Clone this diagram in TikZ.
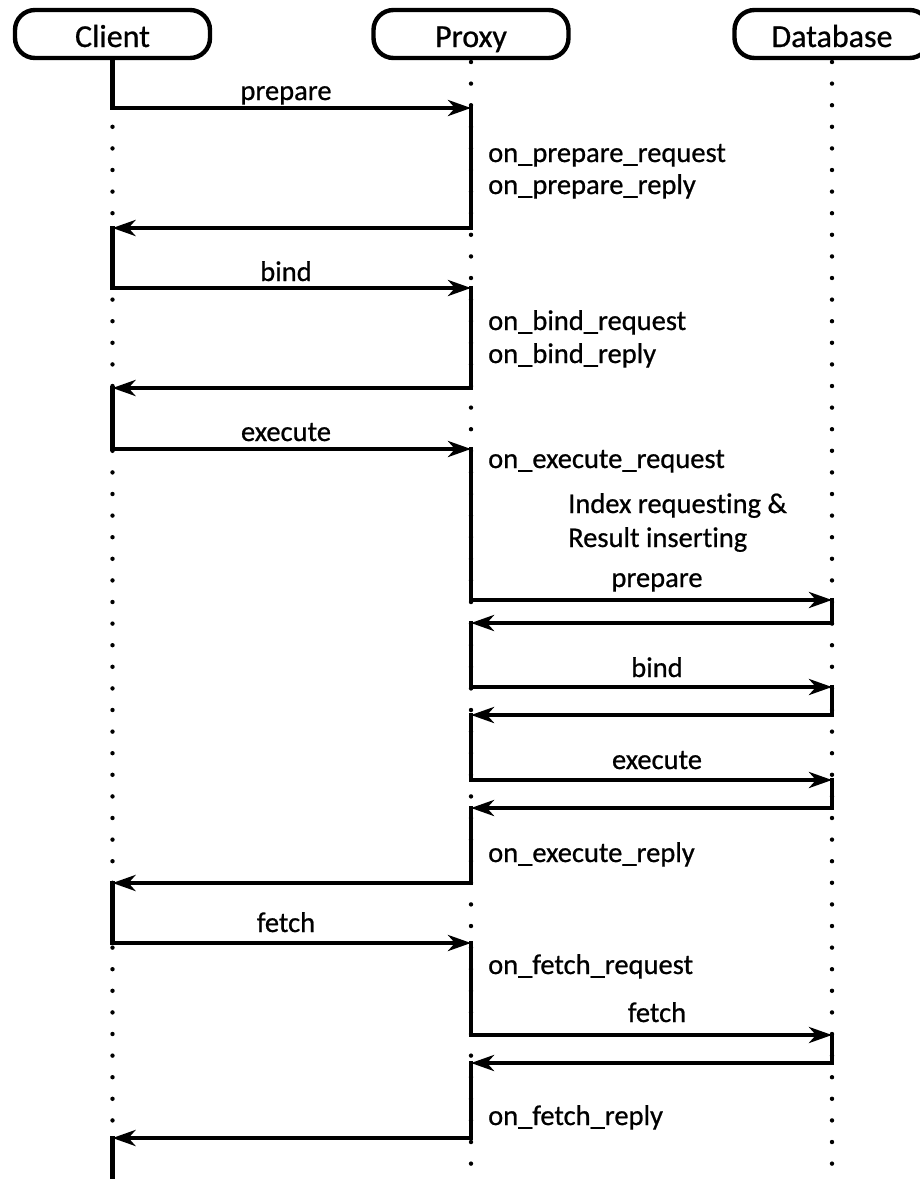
\documentclass[tikz,border=0pt]{standalone}
\usepackage{fontspec}
\setmainfont{Carlito}[Ligatures=NoCommon, FakeBold=0.7]
\usetikzlibrary{arrows.meta}
% one message: the sender's activation bar from y0 down to y1, then the arrow to the receiver at y1
\newcommand\seqmsg[4]{\draw[msg] (#1 |- 0,#2) -- (#1 |- 0,#3) -- (#4 |- 0,#3);}
% keeps "t" and "i" as separate letters
\newcommand\nolig{\kern0pt}
\begin{document}
\begin{tikzpicture}[x=1pt,y=-1pt,
  head/.style={draw, line width=4.4pt, rounded corners=20pt, minimum width=195pt,
    minimum height=48pt, inner sep=0pt, text height=26pt, text depth=0pt,
    font=\fontsize{32pt}{36pt}\selectfont},
  lifeline/.style={line width=4.4pt, line cap=round, dash pattern=on 0pt off 21.6pt},
  msg/.style={line width=4.4pt, line cap=rect,
    -{Stealth[length=23pt,width=16pt,inset=7pt]}},
  bar/.style={line width=4.4pt, line cap=rect},
  lbl/.style={inner sep=0pt, font=\fontsize{28.5pt}{33pt}\selectfont}]

\fill[white] (0,0) rectangle (920,1179);
\useasboundingbox (0,0) rectangle (920,1179);
\clip (0,0) rectangle (920,1179);

% participants
\node[head] (client) at (112.5,34) {Client};
\node[head] (proxy)  at (471,34)   {Proxy};
\node[head] (db)     at (832,34)   {Database};

% dotted lifelines
\draw[lifeline] (client |- 0,62) -- (client |- 0,1179);
\draw[lifeline] (proxy |- 0,62) -- (proxy |- 0,1179);
\draw[lifeline] (db |- 0,62) -- (db |- 0,1179);

% messages with their activation bars
\seqmsg{client}{60}{108}{proxy}
\seqmsg{proxy}{108}{228}{client}
\seqmsg{client}{228}{288}{proxy}
\seqmsg{proxy}{288}{388}{client}
\seqmsg{client}{388}{449}{proxy}
\seqmsg{proxy}{449}{600}{db}
\seqmsg{db}{600}{623}{proxy}
\seqmsg{proxy}{623}{687}{db}
\seqmsg{db}{687}{715}{proxy}
\seqmsg{proxy}{715}{780}{db}
\seqmsg{db}{780}{808}{proxy}
\seqmsg{proxy}{808}{883}{client}
\seqmsg{client}{883}{943}{proxy}
\seqmsg{proxy}{943}{1035}{db}
\seqmsg{db}{1035}{1063}{proxy}
\seqmsg{proxy}{1063}{1138}{client}
\draw[bar] (client |- 0,1138) -- (client |- 0,1185);

% message labels, client <-> proxy
\node[lbl, anchor=base] (mPrepare) at (286,100) {prepare};
\node[lbl, anchor=base] (mBind)    at (286,281) {bind};
\node[lbl, anchor=base] (mExecute) at (286,441) {execute};
\node[lbl, anchor=base] (mFetch)   at (286,932) {fetch};

% message labels, proxy <-> database
\node[lbl, anchor=base] (dPrepare) at (657,587)  {prepare};
\node[lbl, anchor=base] (dBind)    at (657,677)  {bind};
\node[lbl, anchor=base] (dExecute) at (657,769)  {execute};
\node[lbl, anchor=base] (dFetch)   at (657,1022) {fetch};

% proxy callbacks
\node[lbl, anchor=base west] (cbPrepReq)  at (488,162)  {on\_prepare\_request};
\node[lbl, anchor=base west] (cbPrepRep)  at (488,194)  {on\_prepare\_reply};
\node[lbl, anchor=base west] (cbBindReq)  at (488,330)  {on\_bind\_request};
\node[lbl, anchor=base west] (cbBindRep)  at (488,363)  {on\_bind\_reply};
\node[lbl, anchor=base west] (cbExecReq)  at (488,468)  {on\_execute\_request};
\node[lbl, anchor=base west] (cbExecRep)  at (488,862)  {on\_execute\_reply};
\node[lbl, anchor=base west] (cbFetchReq) at (488,974)  {on\_fetch\_request};
\node[lbl, anchor=base west] (cbFetchRep) at (488,1125) {on\_fetch\_reply};

% note on the proxy's work
\node[lbl, anchor=base west] (noteA) at (568,513) {Index request\nolig ing \&};
\node[lbl, anchor=base west] (noteB) at (568,547) {Result insert\nolig ing};
\end{tikzpicture}
\end{document}
